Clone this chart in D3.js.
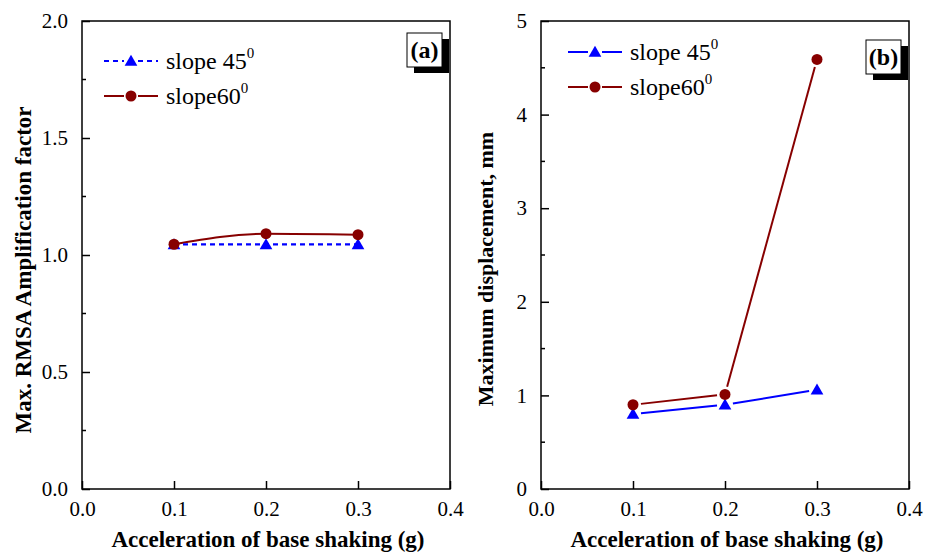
<!DOCTYPE html>
<html>
<head>
<meta charset="utf-8">
<script src="https://d3js.org/d3.v7.min.js"></script>
<style>
  body { margin: 0; background: #fff; }
</style>
</head>
<body>
<div id="canvas"></div>
<script>
const width = 935, height = 554;
const serif = "Liberation Serif";

// data
const accel = [0.1, 0.2, 0.3];
const rmsa45 = [1.045, 1.045, 1.045];
const rmsa60 = [1.046, 1.091, 1.087];
const disp45 = [0.80, 0.90, 1.06];
const disp60 = [0.90, 1.01, 4.59];
const xTicks = [0.0, 0.1, 0.2, 0.3, 0.4];
const yTicksA = [0.0, 0.5, 1.0, 1.5, 2.0];
const yTicksB = [0, 1, 2, 3, 4, 5];
const seriesNames = ["slope 45", "slope60"];

const blue = "#0000ff", red = "#870000";

const svg = d3.select("#canvas").append("svg")
    .attr("width", width)
    .attr("height", height);

const plotTop = 21, plotBottom = 489;

function drawPanel(opts) {
    const x = d3.scaleLinear().domain([0, 0.4]).range([opts.left, opts.right]);
    const y = d3.scaleLinear().domain(opts.yDomain).range([plotBottom, plotTop]);
    const g = svg.append("g");

    // frame
    g.append("rect")
        .attr("x", opts.left).attr("y", plotTop)
        .attr("width", opts.right - opts.left).attr("height", plotBottom - plotTop)
        .attr("fill", "none").attr("stroke", "#000").attr("stroke-width", 1.5);

    // x axis (ticks inward)
    const xAxis = g.append("g").attr("transform", `translate(0,${plotBottom})`)
        .call(d3.axisBottom(x).tickValues(xTicks).tickFormat(d3.format(".1f")).tickSize(-8).tickPadding(12));
    xAxis.select(".domain").remove();
    xAxis.selectAll("line").attr("stroke-width", 1.5);
    xAxis.selectAll("text").attr("fill", "#000")
        .attr("font-family", serif).attr("font-size", 21);

    // y axis major ticks
    const yAxis = g.append("g").attr("transform", `translate(${opts.left},0)`)
        .call(d3.axisLeft(y).tickValues(opts.yTicks).tickFormat(opts.yFormat).tickSize(-8).tickPadding(14));
    yAxis.select(".domain").remove();
    yAxis.selectAll("line").attr("stroke-width", 1.5);
    yAxis.selectAll("text").attr("fill", "#000")
        .attr("font-family", serif).attr("font-size", 21);

    // y axis minor ticks
    g.selectAll(".minor").data(opts.yMinor).join("line")
        .attr("x1", opts.left).attr("x2", opts.left + 4)
        .attr("y1", d => y(d)).attr("y2", d => y(d))
        .attr("stroke", "#000").attr("stroke-width", 1.5);

    // axis titles
    g.append("text")
        .attr("x", (opts.left + opts.right) / 2 + 2).attr("y", 547)
        .attr("text-anchor", "middle").attr("font-size", 23).attr("font-weight", "bold")
        .attr("font-family", serif)
        .text("Acceleration of base shaking (g)");
    g.append("text")
        .attr("transform", `translate(${opts.yTitleX},${opts.yTitleY}) rotate(-90)`)
        .attr("text-anchor", "middle").attr("font-size", opts.yTitleSize).attr("font-weight", "bold")
        .attr("font-family", serif)
        .text(opts.yTitle);

    return { g, x, y };
}

function triangle(g, cx, cy, color) {
    g.append("path")
        .attr("d", d3.symbol().type(d3.symbolTriangle).size(70)())
        .attr("transform", `translate(${cx},${cy + 1})`)
        .attr("fill", color);
}
function circle(g, cx, cy, color) {
    g.append("circle").attr("cx", cx).attr("cy", cy).attr("r", 5.5).attr("fill", color);
}

// segments with a gap around each marker
function gappedLine(g, pts, color, gap) {
    for (let i = 0; i < pts.length - 1; i++) {
        const [x1, y1] = pts[i], [x2, y2] = pts[i + 1];
        const d = Math.hypot(x2 - x1, y2 - y1);
        const ux = (x2 - x1) / d, uy = (y2 - y1) / d;
        g.append("line")
            .attr("x1", x1 + ux * gap).attr("y1", y1 + uy * gap)
            .attr("x2", x2 - ux * gap).attr("y2", y2 - uy * gap)
            .attr("stroke", color).attr("stroke-width", 2);
    }
}

function legend(g, lx, ly, dashed) {
    const rows = [
        { name: seriesNames[0], color: blue, mark: triangle, dash: dashed ? "5,4" : null },
        { name: seriesNames[1], color: red, mark: circle, dash: null }
    ];
    rows.forEach((r, i) => {
        const yy = ly + i * 35;
        g.append("line").attr("x1", lx).attr("x2", lx + 20).attr("y1", yy).attr("y2", yy)
            .attr("stroke", r.color).attr("stroke-width", 2).attr("stroke-dasharray", r.dash);
        g.append("line").attr("x1", lx + 34).attr("x2", lx + 54).attr("y1", yy).attr("y2", yy)
            .attr("stroke", r.color).attr("stroke-width", 2).attr("stroke-dasharray", r.dash);
        r.mark(g, lx + 27, yy, r.color);
        const t = g.append("text").attr("x", lx + 62).attr("y", yy + 8)
            .attr("font-size", 24).attr("font-family", serif);
        t.append("tspan").text(r.name);
        t.append("tspan").attr("dy", -11).attr("font-size", 15).text("0");
    });
}

function panelLabel(g, bx, by, label) {
    g.append("rect").attr("x", bx + 7).attr("y", by + 6).attr("width", 35).attr("height", 34).attr("fill", "#000");
    g.append("rect").attr("x", bx).attr("y", by).attr("width", 35).attr("height", 34)
        .attr("fill", "#fff").attr("stroke", "#000").attr("stroke-width", 1);
    g.append("text").attr("x", bx + 17.5).attr("y", by + 25).attr("text-anchor", "middle")
        .attr("font-size", 24).attr("font-weight", "bold").attr("font-family", serif).text(label);
}

// ---- panel (a)
const A = drawPanel({
    left: 82, right: 450, yDomain: [0, 2], yTicks: yTicksA, yFormat: d3.format(".1f"),
    yMinor: [0.25, 0.75, 1.25, 1.75], yTitle: "Max. RMSA Amplification factor",
    yTitleX: 31, yTitleY: 270, yTitleSize: 23
});
const ptsA45 = accel.map((a, i) => [A.x(a), A.y(rmsa45[i])]);
const ptsA60 = accel.map((a, i) => [A.x(a), A.y(rmsa60[i])]);
A.g.append("path").attr("d", d3.line().curve(d3.curveMonotoneX)(ptsA60))
    .attr("fill", "none").attr("stroke", red).attr("stroke-width", 2);
A.g.append("path").attr("d", d3.line()(ptsA45))
    .attr("fill", "none").attr("stroke", blue).attr("stroke-width", 2.2).attr("stroke-dasharray", "5,4");
ptsA45.forEach(p => triangle(A.g, p[0], p[1], blue));
ptsA60.forEach(p => circle(A.g, p[0], p[1], red));
legend(A.g, 104, 61, true);
panelLabel(A.g, 407, 33, "(a)");

// ---- panel (b)
const B = drawPanel({
    left: 541, right: 909, yDomain: [0, 5], yTicks: yTicksB, yFormat: d3.format("d"),
    yMinor: [0.5, 1.5, 2.5, 3.5, 4.5], yTitle: "Maximum displacement, mm",
    yTitleX: 493, yTitleY: 269, yTitleSize: 22
});
const ptsB45 = accel.map((a, i) => [B.x(a), B.y(disp45[i])]);
const ptsB60 = accel.map((a, i) => [B.x(a), B.y(disp60[i])]);
gappedLine(B.g, ptsB45, blue, 8);
gappedLine(B.g, ptsB60, red, 8);
ptsB45.forEach(p => triangle(B.g, p[0], p[1], blue));
ptsB60.forEach(p => circle(B.g, p[0], p[1], red));
legend(B.g, 568, 52, false);
panelLabel(B.g, 866, 40, "(b)");
</script>
</body>
</html>
